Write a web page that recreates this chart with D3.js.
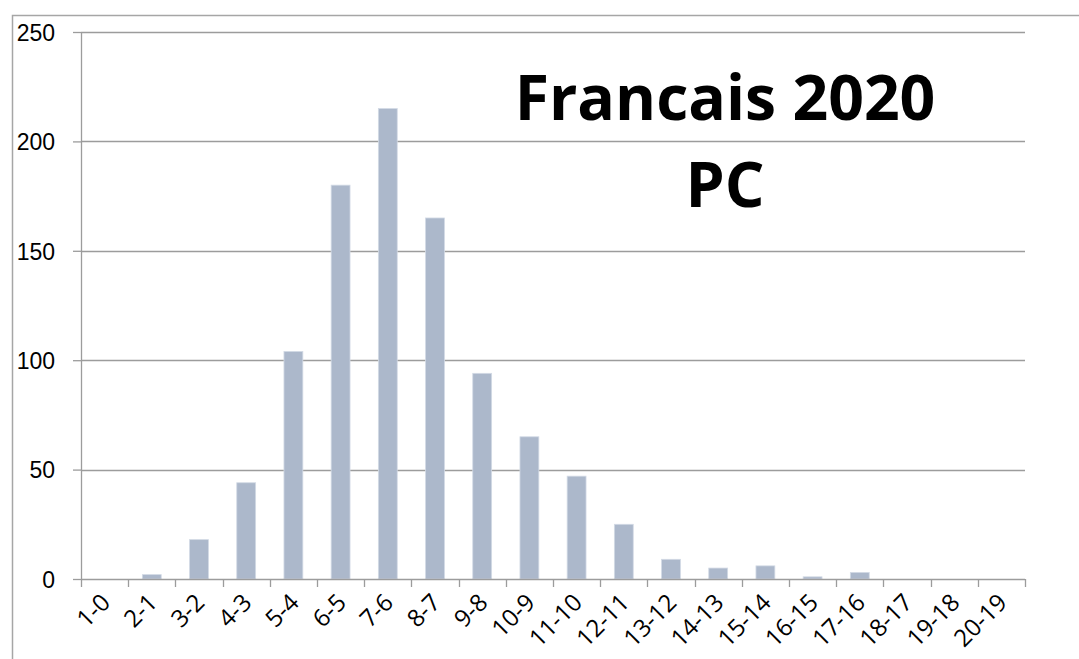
<!DOCTYPE html>
<html>
<head>
<meta charset="utf-8">
<script src="https://cdn.jsdelivr.net/npm/d3@7"></script>
<style>
  body { margin: 0; background: #fff; }
  svg { display: block; font-family: "Open Sans", "Liberation Sans", sans-serif; }
</style>
</head>
<body>
<svg id="chart" width="1079" height="659"></svg>
<script>
// data
const categories = ["1-0", "2-1", "3-2", "4-3", "5-4", "6-5", "7-6", "8-7", "9-8", "10-9",
  "11-10", "12-11", "13-12", "14-13", "15-14", "16-15", "17-16", "18-17", "19-18", "20-19"];
const counts = [0, 2, 18, 44, 104, 180, 215, 165, 94, 65, 47, 25, 9, 5, 6, 1, 3, 0, 0, 0];
const yTicks = [0, 50, 100, 150, 200, 250];
const titleLines = ["Francais 2020", "PC"];

const margin = {top: 32, right: 54, bottom: 80, left: 81};
const width = 1079 - margin.left - margin.right;
const height = 659 - margin.top - margin.bottom;

const svgRoot = d3.select('#chart');

// outer chart frame (cropped on right and bottom)
svgRoot.append('path')
    .attr('d', 'M12.5,659 V15.5 H1079')
    .attr('fill', 'none')
    .attr('stroke', '#a6a6a6')
    .attr('stroke-width', 1.5);

const svg = svgRoot.append('g')
    .attr('transform', 'translate(' + margin.left + ',' + margin.top + ')');

const x = d3.scaleBand()
    .domain(categories)
    .range([0, width])
    .paddingInner(0.6)
    .paddingOuter(0.3);

const y = d3.scaleLinear()
    .domain([0, 250])
    .range([height, 0]);

// gridlines
svg.append('g')
    .selectAll('line')
    .data(yTicks.filter(d => d > 0))
    .enter()
    .append('line')
    .attr('x1', 0)
    .attr('x2', width)
    .attr('y1', d => Math.round(y(d)) + 0.5)
    .attr('y2', d => Math.round(y(d)) + 0.5)
    .attr('stroke', '#9c9c9c')
    .attr('stroke-width', 1.3);

// bars
svg.selectAll('.bar')
    .data(counts)
    .enter()
    .append('rect')
    .attr('class', 'bar')
    .attr('x', (d, i) => x(categories[i]))
    .attr('y', d => y(d))
    .attr('width', x.bandwidth())
    .attr('height', d => height - y(d))
    .attr('fill', '#acb8cb')
    .attr('stroke', '#d3dae5')
    .attr('stroke-width', d => d > 0 ? 0.8 : 0);

// y axis
const yAxis = svg.append('g')
    .call(d3.axisLeft(y).tickValues(yTicks).tickSize(8).tickPadding(18));
yAxis.select('.domain').attr('stroke', '#9c9c9c').attr('stroke-width', 1.3).attr('d', 'M0.5,' + height + 'V0');
yAxis.selectAll('.tick line').attr('stroke', '#9c9c9c').attr('stroke-width', 1.3);
yAxis.selectAll('.tick text')
    .attr('fill', '#000')
    .style('font-size', '23px')
    .attr('dy', '0.36em');

// x axis: ticks on category boundaries
const boundaries = d3.range(categories.length + 1).map(i => i * width / categories.length);
const xAxis = svg.append('g').attr('transform', 'translate(0,' + height + ')');
xAxis.append('line')
    .attr('x1', 0).attr('x2', width)
    .attr('y1', 0.5).attr('y2', 0.5)
    .attr('stroke', '#9c9c9c').attr('stroke-width', 1.5);
xAxis.selectAll('.xtick')
    .data(boundaries)
    .enter()
    .append('line')
    .attr('x1', d => Math.round(d) + 0.5)
    .attr('x2', d => Math.round(d) + 0.5)
    .attr('y1', 0).attr('y2', 8)
    .attr('stroke', '#9c9c9c').attr('stroke-width', 1.3);
xAxis.selectAll('.xlabel')
    .data(categories)
    .enter()
    .append('text')
    .attr('text-anchor', 'end')
    .attr('transform', d => 'translate(' + (x(d) + x.bandwidth() / 2 + 7) + ',25) rotate(-45)')
    .style('font-size', '24px')
    .attr('fill', '#000')
    .text(d => d);

// title
svgRoot.append('g')
    .selectAll('text')
    .data(titleLines)
    .enter()
    .append('text')
    .attr('x', 725)
    .attr('y', (d, i) => 120 + i * 87)
    .attr('text-anchor', 'middle')
    .style('font-size', '62.5px')
    .style('font-weight', 'bold')
    .attr('fill', '#000')
    .text(d => d);
</script>
</body>
</html>
